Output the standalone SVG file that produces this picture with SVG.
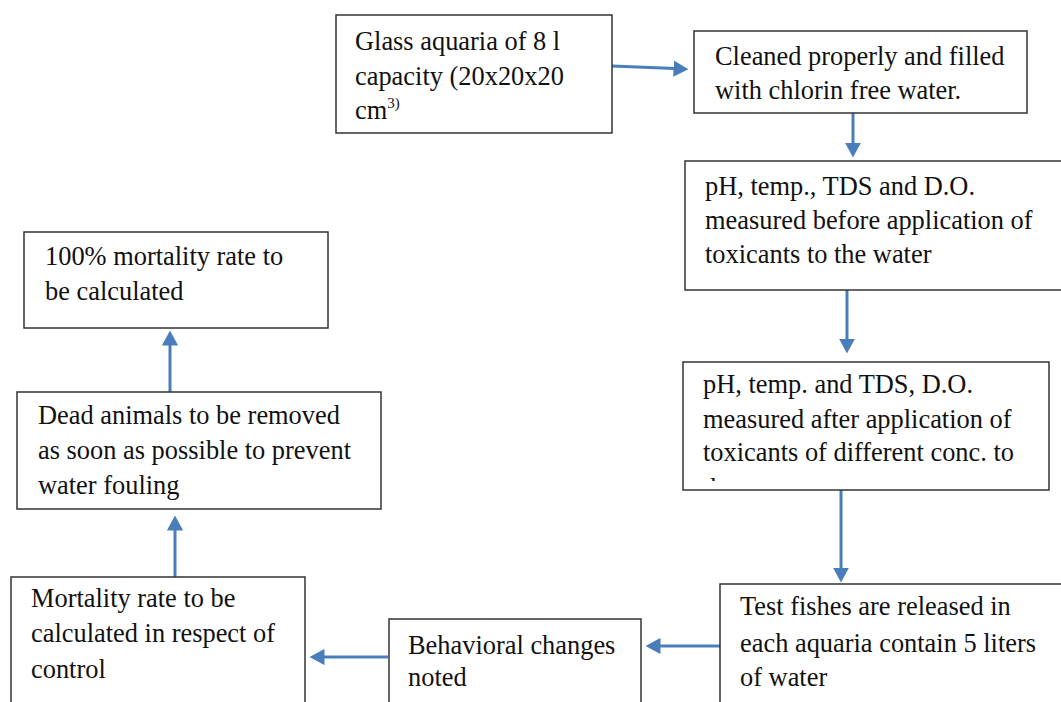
<svg xmlns="http://www.w3.org/2000/svg" width="1061" height="702" viewBox="0 0 1061 702">
<style>
.box{fill:#fff;stroke:#333;stroke-width:1.5}
.t{font-family:'Liberation Serif','Times New Roman',serif;font-size:26.4px;fill:#111}
.c{stroke:#4A7EBB;stroke-width:3;fill:none}
</style>
<defs>
<marker id="ah" markerWidth="5" markerHeight="5.4" refX="0.5" refY="2.7" orient="auto" markerUnits="strokeWidth" viewBox="0 0 5 5.4">
<path d="M0,0 L5,2.7 L0,5.4 Z" fill="#4A7EBB"/>
</marker>
<clipPath id="clip4"><rect x="683" y="362" width="366" height="119"/></clipPath>
</defs>
<rect width="1061" height="702" fill="#fff"/>
<g id="connectors">
<path class="c" d="M612,66 L675,68.6" marker-end="url(#ah)"/>
<path class="c" d="M853,113 L853,144" marker-end="url(#ah)"/>
<path class="c" d="M847,290 L847,340" marker-end="url(#ah)"/>
<path class="c" d="M841,490 L841,569" marker-end="url(#ah)"/>
<path class="c" d="M720,646 L659,646" marker-end="url(#ah)"/>
<path class="c" d="M388,657 L323,657" marker-end="url(#ah)"/>
<path class="c" d="M175,577 L175,529" marker-end="url(#ah)"/>
<path class="c" d="M170,392 L170,344" marker-end="url(#ah)"/>
</g>
<g id="n1">
<rect class="box" x="336" y="15" width="276" height="118"/>
<text class="t" x="355" y="50">Glass aquaria of 8 l</text>
<text class="t" x="355" y="85">capacity (20x20x20</text>
<text class="t" x="355" y="119">cm<tspan font-size="15" dy="-11">3)</tspan></text>
</g>
<g id="n2">
<rect class="box" x="694" y="31" width="333" height="82"/>
<text class="t" x="715" y="65">Cleaned properly and filled</text>
<text class="t" x="715" y="99">with chlorin free water.</text>
</g>
<g id="n3">
<rect class="box" x="685" y="161" width="390" height="129"/>
<text class="t" x="705" y="195">pH, temp., TDS and D.O.</text>
<text class="t" x="705" y="229">measured before application of</text>
<text class="t" x="705" y="263">toxicants to the water</text>
</g>
<g id="n4">
<rect class="box" x="683" y="362" width="366" height="128"/>
<text class="t" x="703" y="393">pH, temp. and TDS, D.O.</text>
<text class="t" x="703" y="428">measured after application of</text>
<text class="t" x="703" y="461">toxicants of different conc. to</text>
<text class="t" x="703" y="497" clip-path="url(#clip4)">the water</text>
</g>
<g id="n5">
<rect class="box" x="720" y="584" width="360" height="130"/>
<text class="t" x="740" y="615">Test fishes are released in</text>
<text class="t" x="740" y="652">each aquaria contain 5 liters</text>
<text class="t" x="740" y="686">of water</text>
</g>
<g id="n6">
<rect class="box" x="389" y="619" width="252" height="95"/>
<text class="t" x="408" y="654">Behavioral changes</text>
<text class="t" x="408" y="686">noted</text>
</g>
<g id="n7">
<rect class="box" x="11" y="577" width="294" height="137"/>
<text class="t" x="31" y="607">Mortality rate to be</text>
<text class="t" x="31" y="642">calculated in respect of</text>
<text class="t" x="31" y="678">control</text>
</g>
<g id="n8">
<rect class="box" x="17" y="392" width="364" height="117"/>
<text class="t" x="38" y="424">Dead animals to be removed</text>
<text class="t" x="38" y="459">as soon as possible to prevent</text>
<text class="t" x="38" y="494">water fouling</text>
</g>
<g id="n9">
<rect class="box" x="24" y="232" width="304" height="96"/>
<text class="t" x="45" y="265">100% mortality rate to</text>
<text class="t" x="45" y="300">be calculated</text>
</g>
</svg>
